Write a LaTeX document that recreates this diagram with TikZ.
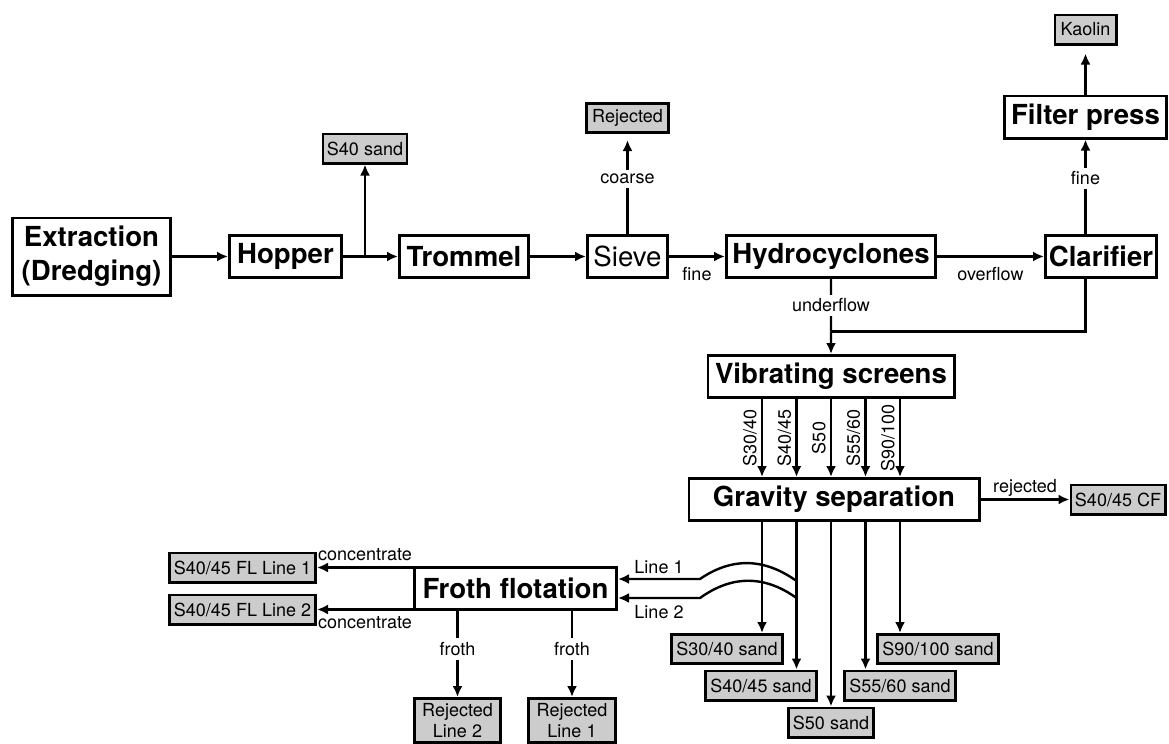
\documentclass[tikz,border=0pt]{standalone}
\usepackage{fontspec}
\setmainfont{TeX Gyre Heros}
\usepackage{tikz}
\usetikzlibrary{arrows.meta, positioning, calc}

\begin{document}
\begin{tikzpicture}[
    x=0.5pt, y=-0.5pt,
    line width=1.2pt,
    >={Latex[length=5.5pt,width=5pt]},
    block/.style={
        rectangle,
        draw=black,
        line width=1.4pt,
        fill=white,
        align=center,
        inner sep=1.5pt,
        minimum height=21.1pt,
        font=\fontsize{13.8}{17}\selectfont\bfseries
    },
    prod/.style={
        rectangle,
        draw=black,
        line width=1.3pt,
        fill=gray!40,
        align=center,
        inner sep=2pt,
        minimum height=14.7pt,
        font=\fontsize{9}{10.5}\selectfont
    },
    lbl/.style={font=\fontsize{9}{10.5}\selectfont, inner sep=2pt}
]
\useasboundingbox (0,0) rectangle (1169,744);

% Main line
\node[block, minimum width=79.1pt, minimum height=38.6pt] (extr) at (91.5,256.5) {Extraction\\(Dredging)};
\node[block, minimum width=56.1pt, right=28pt of extr] (hopper) {Hopper};
\node[block, minimum width=64.6pt, right=27.5pt of hopper] (trommel) {Trommel};
\node[block, font=\fontsize{13.8}{17}\selectfont, minimum width=40.1pt, right=28pt of trommel] (sieve) {Sieve};
\node[block, minimum width=104.6pt, right=28pt of sieve] (hydro) {Hydrocyclones};
\node[block, minimum width=55.6pt, right=53.5pt of hydro] (clar) {Clarifier};

\coordinate[right=11pt of hopper.east] (split);
\node[prod, minimum width=38.2pt, above=46pt of split] (s40) {S40 sand};
\node[prod, minimum width=41.2pt, above=50pt of sieve] (rej) {Rejected};
\node[block, minimum width=81.1pt] (fp) at (1085.5,117) {Filter press};
\node[prod, minimum width=30.7pt, above=24.5pt of fp] (kaolin) {Kaolin};

\draw[->] (extr) -- (hopper);
\draw (hopper) -- (split);
\draw[->] (split) -- (trommel);
\draw[->] (split) -- (s40);
\draw[->] (trommel) -- (sieve);
\draw[->] (sieve) -- node[lbl, below=3pt] {fine} (hydro);
\draw[->, shorten >=3pt] (sieve) -- node[lbl, fill=white, pos=0.55] {coarse} (rej);
\draw[->] (hydro) -- node[lbl, below=3pt] {overflow} (clar);
\draw[->] (clar.north -| fp) -- node[lbl, fill=white, pos=0.59] {fine} (fp);
\draw[->, shorten >=4pt] (fp) -- (kaolin);

% Screening and separation
\node[block, minimum width=123.1pt, below=37.5pt of hydro] (vs) {Vibrating screens};
\node[block, minimum width=145.1pt, below=39pt of vs, xshift=1.5pt] (gs) {Gravity separation};
\node[prod, minimum width=47.2pt, right=44.5pt of gs] (cf) {S40/45 CF};

\coordinate (merge) at ($(hydro.south)!0.7!(vs.north)$);
\draw (hydro) -- node[lbl, fill=white] {underflow} (merge);
\draw (clar.south -| fp) |- (merge);
\draw[->] (merge) -- (vs);

\foreach \lab [count=\i from -2] in {{S30/40},{S40/45},{S50},{S55/60},{S90/100}}
    \draw[->] ([xshift=\i*17.25pt]vs.south) -- node[lbl, rotate=90, anchor=south] {\lab} ([xshift=\i*17.25pt]vs.south |- gs.north);

\draw[->] (gs) -- node[lbl, above, inner sep=1pt] {rejected} (cf);

\node[prod, minimum width=55.7pt] (p1) at (727,649) {S30/40 sand};
\node[prod, minimum width=55.7pt] (p2) at (761,685.5) {S40/45 sand};
\node[prod, minimum width=42.7pt] (p3) at (831,722.5) {S50 sand};
\node[prod, minimum width=55.7pt] (p4) at (900,685.5) {S55/60 sand};
\node[prod, minimum width=60.7pt] (p5) at (938,649) {S90/100 sand};

\foreach \i/\p in {-2/p1,-1/p2,0/p3,1/p4,2/p5}
    \draw[->] ([xshift=\i*17.25pt]vs.south |- gs.south) -- ([xshift=\i*17.25pt]vs.south |- \p.north);

% Flotation
\node[block, minimum width=101.1pt] (ff) at (515.5,588.5) {Froth flotation};
\node[prod, minimum width=73.2pt] (fl1) at (242.5,567.5) {S40/45 FL Line 1};
\node[prod, minimum width=73.2pt] (fl2) at (242.5,609.5) {S40/45 FL Line 2};
\node[prod, minimum width=43.2pt, minimum height=22.2pt] (rj2) at (457.5,720.5) {Rejected\\Line 2};
\node[prod, minimum width=43.7pt, minimum height=22.2pt] (rj1) at (572,720.5) {Rejected\\Line 1};

\coordinate (j1) at ([xshift=-17.25pt]vs.south |- 0,581);
\coordinate (j2) at ([xshift=-17.25pt]vs.south |- 0,598);
\coordinate (b1) at (700,579);
\coordinate (b2) at (700,598);
\draw[->] (j1) .. controls +(-32,-23) and +(32,-22) .. (b1) -- node[lbl, above] {Line 1} (ff.east |- b1);
\draw[->] (j2) .. controls +(-32,-23) and +(32,-23) .. (b2) -- node[lbl, below=1pt] {Line 2} (ff.east |- b2);

\draw[->] (ff.west |- fl1) -- node[lbl, above=1pt] {concentrate} (fl1);
\draw[->] (ff.west |- fl2) -- node[lbl, below=1pt] {concentrate} (fl2);
\draw[->] (ff.south -| rj2) -- node[lbl, fill=white, pos=0.44] {froth} (rj2);
\draw[->] (ff.south -| rj1) -- node[lbl, fill=white, pos=0.44] {froth} (rj1);

\end{tikzpicture}
\end{document}
